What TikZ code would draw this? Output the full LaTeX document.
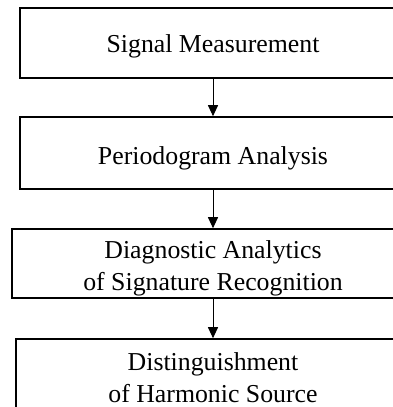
\documentclass[tikz,border=0pt]{standalone}
\usepackage{fontspec}
\setmainfont{Liberation Serif}
\usetikzlibrary{arrows.meta}
\begin{document}
\begin{tikzpicture}[x=1pt,y=1pt,
  stepbox/.style={draw=black, line width=1.6pt, inner sep=0pt},
  steptext/.style={inner sep=0pt, align=center, font=\fontsize{25.8}{32.5}\selectfont},
  flow/.style={line width=1pt, -{Triangle[length=11pt,width=10pt]}}]
\useasboundingbox (0,0) rectangle (393,407);
\node[stepbox, minimum width=386pt, minimum height=70pt] (a) at (213,364) {};
\node[stepbox, minimum width=386pt, minimum height=72pt] (b) at (213,254) {};
\node[stepbox, minimum width=402pt, minimum height=69pt] (c) at (213,143.5) {};
\node[stepbox, minimum width=394pt, minimum height=77pt] (d) at (213,29.5) {};
\node[steptext] (ta) at ([yshift=-3pt]a.center) {Signal Measurement};
\node[steptext] (tb) at ([yshift=-5pt]b.center) {Periodogram Analysis};
\node[steptext] (tc) at ([yshift=-5pt]c.center) {Diagnostic Analytics\\of Signature Recognition};
\node[steptext] (td) at (d.center) {Distinguishment\\of Harmonic Source};
\draw[flow] (a.south) -- (b.north);
\draw[flow] (b.south) -- (c.north);
\draw[flow] (c.south) -- (d.north);
\end{tikzpicture}
\end{document}
